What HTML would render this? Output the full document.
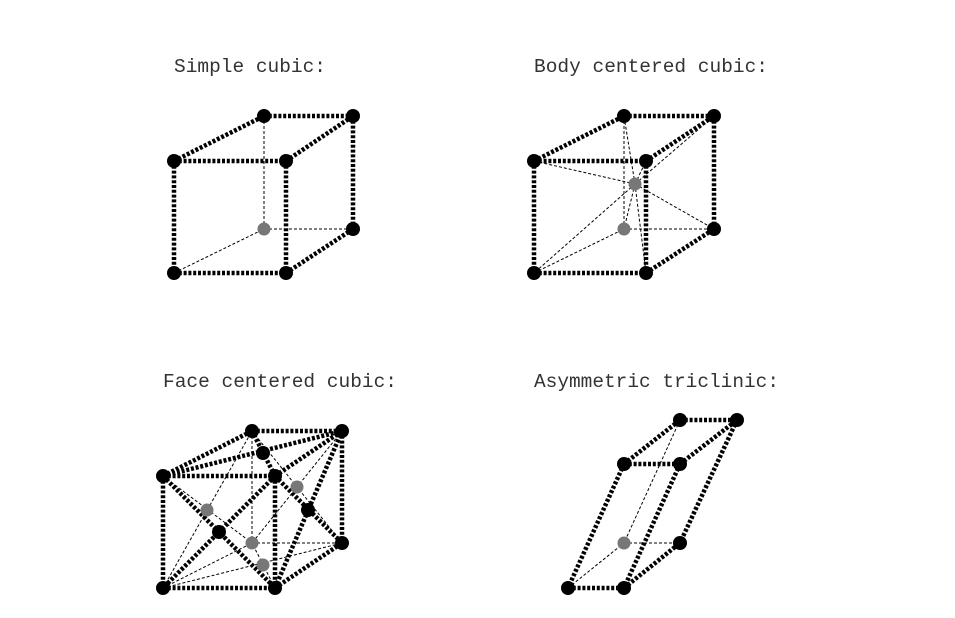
<!DOCTYPE html>
<html><head><style>html,body{margin:0;padding:0;background:#fff}svg{display:block}</style></head>
<body>
<svg width="955" height="618" viewBox="0 0 955 618" xmlns="http://www.w3.org/2000/svg">
<g font-family="Liberation Mono, monospace" font-size="19" fill="#333">
<text x="174" y="72" textLength="152" lengthAdjust="spacingAndGlyphs">Simple cubic:</text>
<text x="534" y="72" textLength="234" lengthAdjust="spacingAndGlyphs">Body centered cubic:</text>
<text x="163" y="387" textLength="234" lengthAdjust="spacingAndGlyphs">Face centered cubic:</text>
<text x="534" y="387" textLength="245" lengthAdjust="spacingAndGlyphs">Asymmetric triclinic:</text>
</g>
<g stroke="#000" stroke-width="1" stroke-dasharray="3 2" fill="none">
<path d="M264,116L264,229M174,273L264,229M264,229L353,229"/>
<path d="M624,116L624,229M534,273L624,229M624,229L714,229"/>
<path d="M635,184L534,161M635,184L646,161M635,184L534,273M635,184L646,273M635,184L624,116M635,184L714,116M635,184L624,229M635,184L714,229"/>
<path d="M252,431L252,543M163,588L252,543M252,543L342,543"/>
<path d="M163,476L252,543M163,588L252,431M252,431L342,543M342,431L252,543M163,588L342,543M275,588L252,543"/>
<path d="M680,420L624,543M568,588L624,543M624,543L680,543"/>
</g>
<g stroke="#000" stroke-width="4.5" stroke-dasharray="3 1.8" fill="none">
<path d="M174,161L286,161M174,273L286,273M174,161L174,273M286,161L286,273M264,116L353,116M353,116L353,229M174,161L264,116M286,161L353,116M286,273L353,229"/>
<path d="M534,161L646,161M534,273L646,273M534,161L534,273M646,161L646,273M624,116L714,116M714,116L714,229M534,161L624,116M646,161L714,116M646,273L714,229"/>
<path d="M163,476L275,476M163,588L275,588M163,476L163,588M275,476L275,588M252,431L342,431M342,431L342,543M163,476L252,431M275,476L342,431M275,588L342,543"/>
<path d="M163,476L275,588M275,476L163,588M163,476L342,431M275,476L252,431M275,476L342,543M275,588L342,431"/>
<path d="M624,464L680,464M568,588L624,588M624,464L568,588M680,464L624,588M680,420L737,420M737,420L680,543M624,464L680,420M680,464L737,420M624,588L680,543"/>
</g>
<g fill="#000">
<circle cx="174" cy="161" r="7"/><circle cx="286" cy="161" r="7"/><circle cx="174" cy="273" r="7"/><circle cx="286" cy="273" r="7"/><circle cx="264" cy="116" r="7"/><circle cx="353" cy="116" r="7"/><circle cx="353" cy="229" r="7"/>
<circle cx="534" cy="161" r="7"/><circle cx="646" cy="161" r="7"/><circle cx="534" cy="273" r="7"/><circle cx="646" cy="273" r="7"/><circle cx="624" cy="116" r="7"/><circle cx="714" cy="116" r="7"/><circle cx="714" cy="229" r="7"/>
<circle cx="163" cy="476" r="7"/><circle cx="275" cy="476" r="7"/><circle cx="163" cy="588" r="7"/><circle cx="275" cy="588" r="7"/><circle cx="252" cy="431" r="7"/><circle cx="342" cy="431" r="7"/><circle cx="342" cy="543" r="7"/>
<circle cx="219" cy="532" r="7"/><circle cx="263" cy="453" r="7"/><circle cx="308" cy="510" r="7"/>
<circle cx="624" cy="464" r="7"/><circle cx="680" cy="464" r="7"/><circle cx="568" cy="588" r="7"/><circle cx="624" cy="588" r="7"/><circle cx="680" cy="420" r="7"/><circle cx="737" cy="420" r="7"/><circle cx="680" cy="543" r="7"/>
</g>
<g fill="#777">
<circle cx="264" cy="229" r="6.5"/>
<circle cx="624" cy="229" r="6.5"/><circle cx="635" cy="184" r="6.5"/>
<circle cx="252" cy="543" r="6.5"/><circle cx="207" cy="510" r="6.5"/><circle cx="297" cy="487" r="6.5"/><circle cx="263" cy="565" r="6.5"/>
<circle cx="624" cy="543" r="6.5"/>
</g>
</svg>
</body></html>
